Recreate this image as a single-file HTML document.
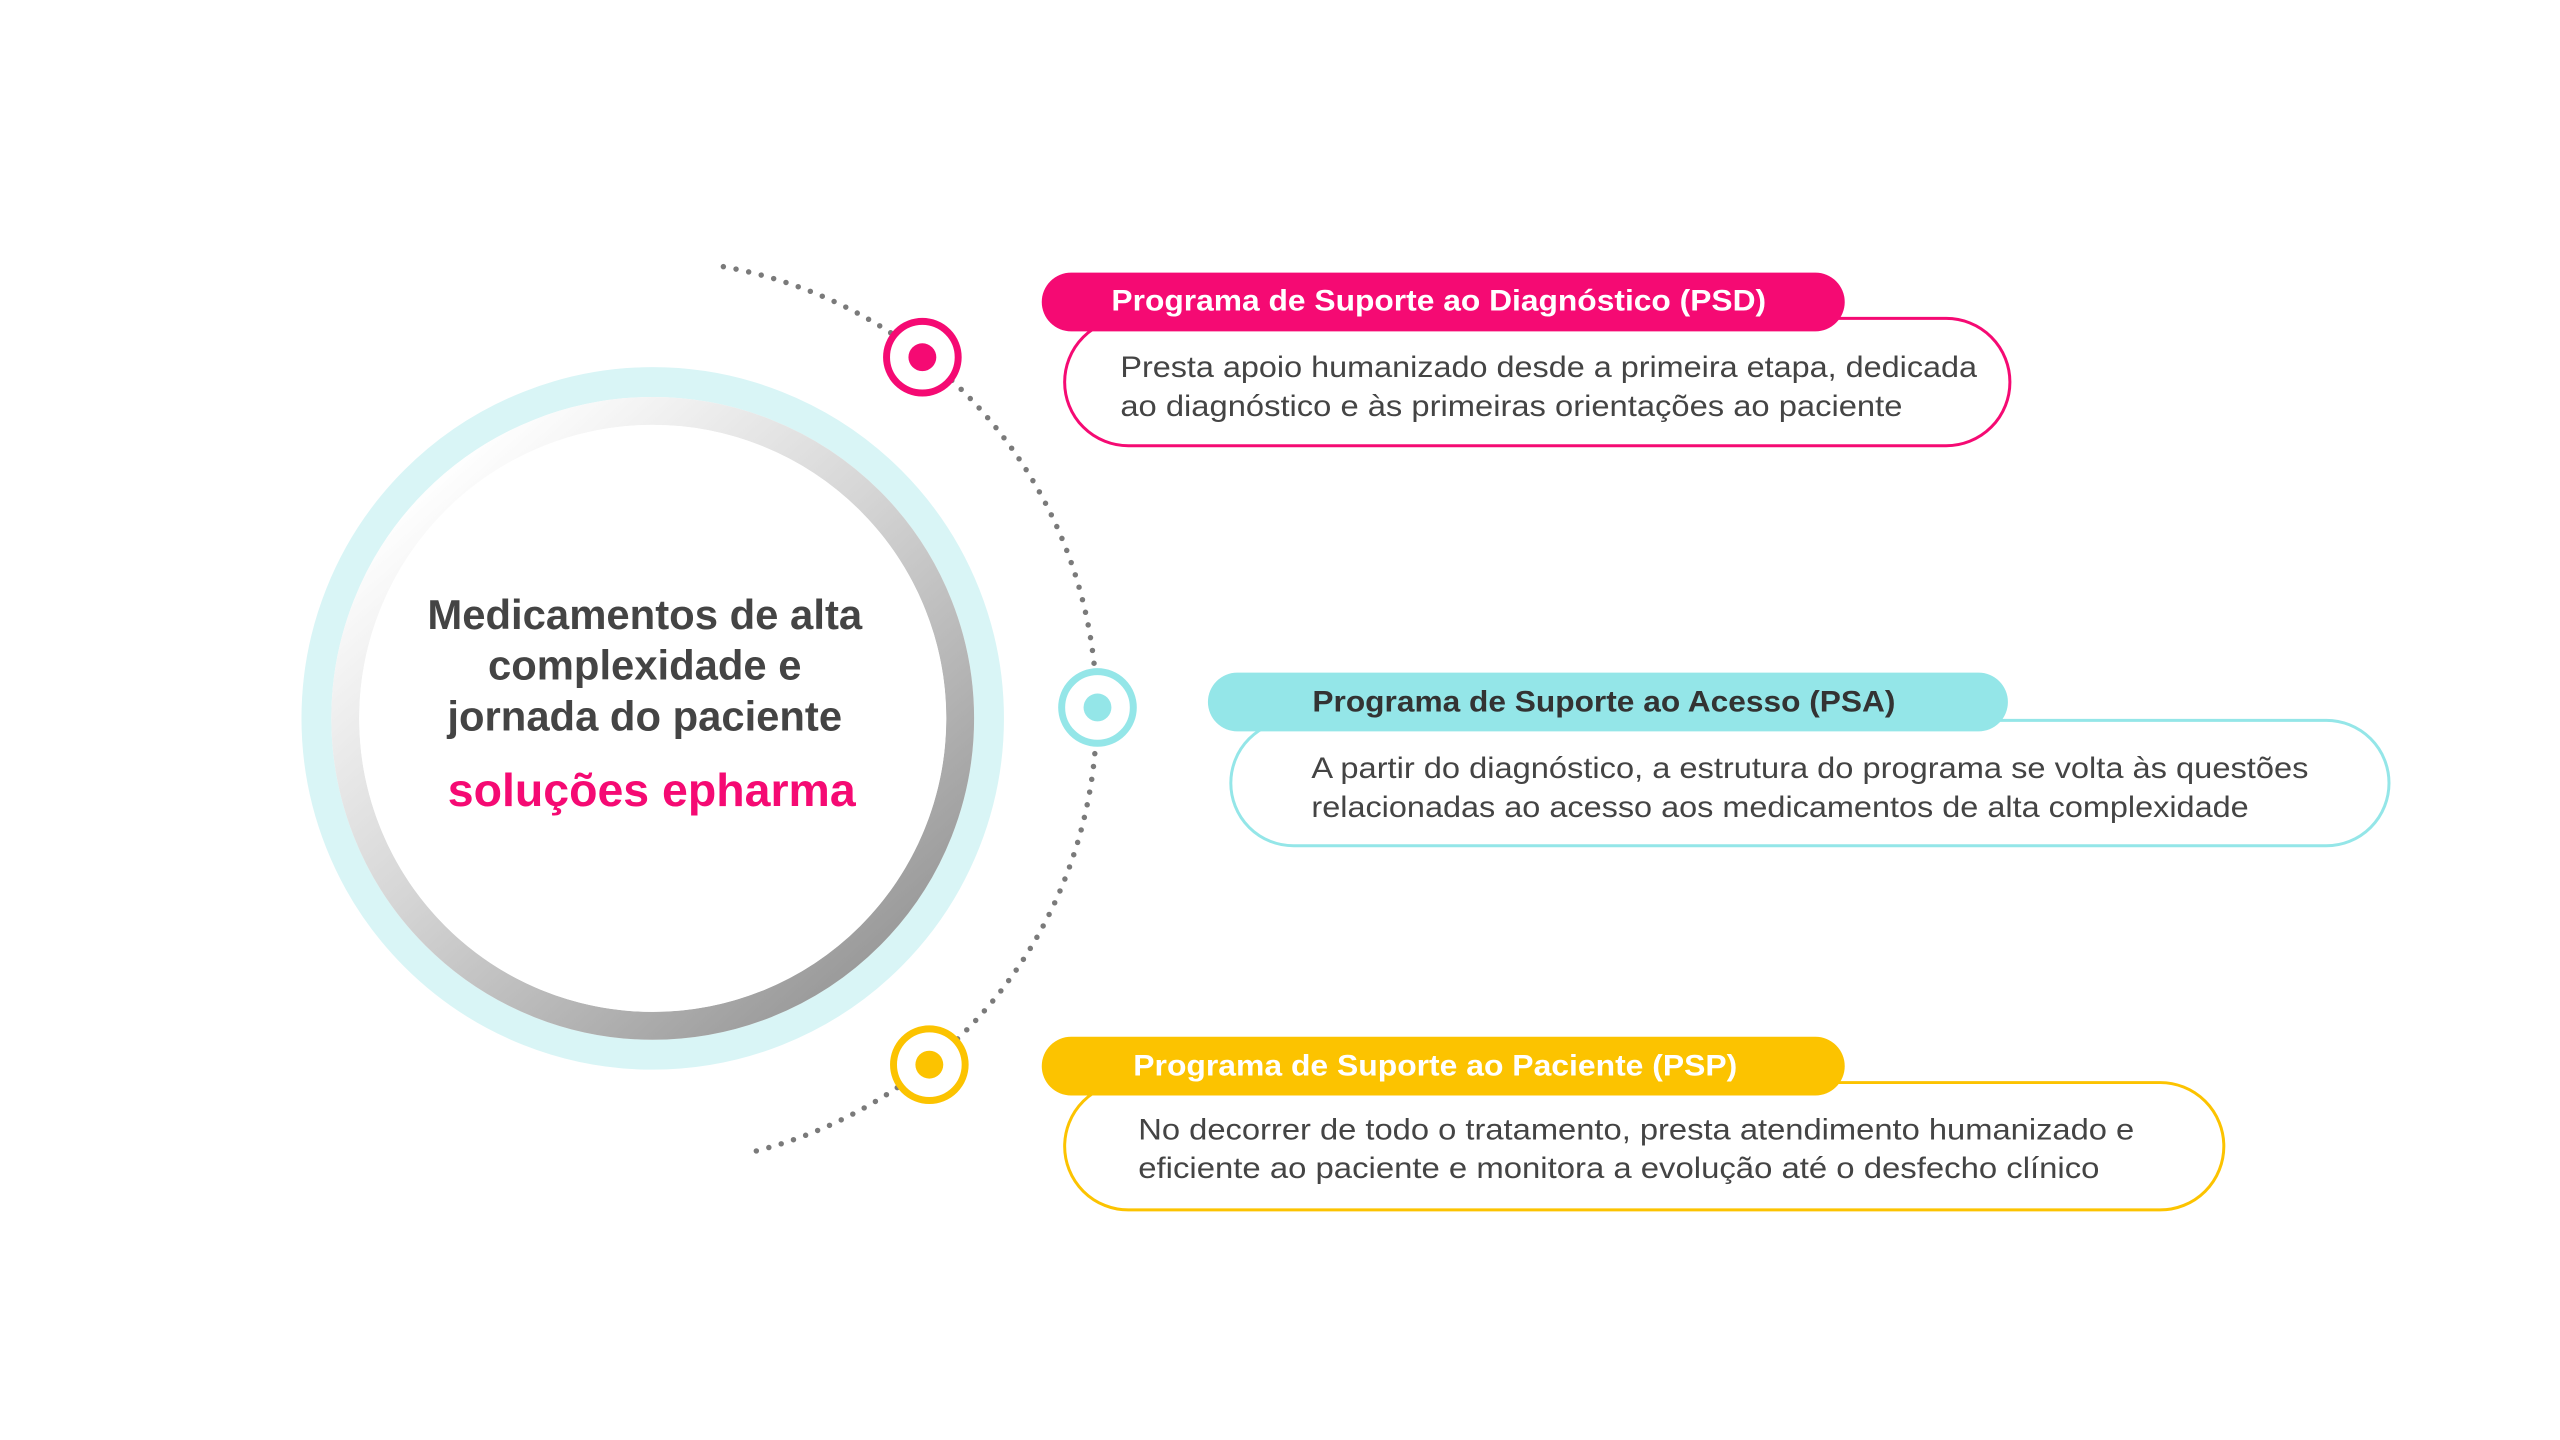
<!DOCTYPE html>
<html><head><meta charset="utf-8"><style>
html,body{margin:0;padding:0;background:#fff;}
svg{display:block;}
text{font-family:"Liberation Sans",sans-serif;}
</style></head><body>
<svg width="2560" height="1440" viewBox="0 0 2560 1440" xmlns="http://www.w3.org/2000/svg">
<defs>
<linearGradient id="g" x1="0.15" y1="0.1" x2="0.85" y2="0.9">
<stop offset="0" stop-color="#ffffff"/>
<stop offset="0.45" stop-color="#d6d6d6"/>
<stop offset="1" stop-color="#9a9a9a"/>
</linearGradient>
</defs>
<rect width="2560" height="1440" fill="#fff"/>
<g transform="scale(0.995)">
<!-- big circle -->
<circle cx="656" cy="722" r="338" fill="none" stroke="#d9f5f6" stroke-width="30"/>
<circle cx="656" cy="722" r="309" fill="none" stroke="url(#g)" stroke-width="28"/>
<circle cx="656" cy="722" r="295" fill="#fff"/>
<!-- dotted arc -->
<path d="M 727 268 A 455 455 0 0 1 755 1158" fill="none" stroke="#7a7a7a" stroke-width="5.5" stroke-linecap="round" stroke-dasharray="0 13"/>
<!-- nodes -->
<circle cx="927" cy="359" r="36" fill="#fff" stroke="#f50a73" stroke-width="7"/>
<circle cx="927" cy="359" r="14" fill="#f50a73"/>
<circle cx="1103" cy="711" r="36" fill="#fff" stroke="#94e6e8" stroke-width="7"/>
<circle cx="1103" cy="711" r="14" fill="#94e6e8"/>
<circle cx="934" cy="1070" r="36" fill="#fff" stroke="#fcc300" stroke-width="7"/>
<circle cx="934" cy="1070" r="14" fill="#fcc300"/>
<!-- center text -->
<g fill="#444" font-weight="bold" font-size="42" text-anchor="middle">
<text x="648" y="632" textLength="437" lengthAdjust="spacingAndGlyphs">Medicamentos de alta</text>
<text x="648" y="683">complexidade e</text>
<text x="648" y="734">jornada do paciente</text>
</g>
<text x="655" y="810" fill="#f50a73" font-weight="bold" font-size="47" text-anchor="middle" textLength="410" lengthAdjust="spacingAndGlyphs">soluções epharma</text>

<!-- PSD -->
<rect x="1070" y="320" width="950" height="128" rx="64" fill="#fff" stroke="#f50a73" stroke-width="3"/>
<rect x="1047" y="274" width="807" height="59" rx="29.5" fill="#f50a73"/>
<text x="1117" y="312" fill="#fff" font-weight="bold" font-size="30" textLength="658" lengthAdjust="spacingAndGlyphs">Programa de Suporte ao Diagnóstico (PSD)</text>
<g fill="#444" font-size="30">
<text x="1126" y="379" textLength="861" lengthAdjust="spacingAndGlyphs">Presta apoio humanizado desde a primeira etapa, dedicada</text>
<text x="1126" y="418" textLength="786" lengthAdjust="spacingAndGlyphs">ao diagnóstico e às primeiras orientações ao paciente</text>
</g>

<!-- PSA -->
<rect x="1237" y="724" width="1164" height="126" rx="63" fill="#fff" stroke="#94e6e8" stroke-width="3"/>
<rect x="1214" y="676" width="804" height="59" rx="29.5" fill="#94e6e8"/>
<text x="1319" y="715" fill="#333" font-weight="bold" font-size="30" textLength="586" lengthAdjust="spacingAndGlyphs">Programa de Suporte ao Acesso (PSA)</text>
<g fill="#444" font-size="30">
<text x="1318" y="782" textLength="1002" lengthAdjust="spacingAndGlyphs">A partir do diagnóstico, a estrutura do programa se volta às questões</text>
<text x="1318" y="821" textLength="942" lengthAdjust="spacingAndGlyphs">relacionadas ao acesso aos medicamentos de alta complexidade</text>
</g>

<!-- PSP -->
<rect x="1070" y="1088" width="1165" height="128" rx="64" fill="#fff" stroke="#fcc300" stroke-width="3"/>
<rect x="1047" y="1042" width="807" height="59" rx="29.5" fill="#fcc300"/>
<text x="1139" y="1081" fill="#fff" font-weight="bold" font-size="30" textLength="607" lengthAdjust="spacingAndGlyphs">Programa de Suporte ao Paciente (PSP)</text>
<g fill="#444" font-size="30">
<text x="1144" y="1145" textLength="1001" lengthAdjust="spacingAndGlyphs">No decorrer de todo o tratamento, presta atendimento humanizado e</text>
<text x="1144" y="1184" textLength="966" lengthAdjust="spacingAndGlyphs">eficiente ao paciente e monitora a evolução até o desfecho clínico</text>
</g>
</g>
</svg>
</body></html>
